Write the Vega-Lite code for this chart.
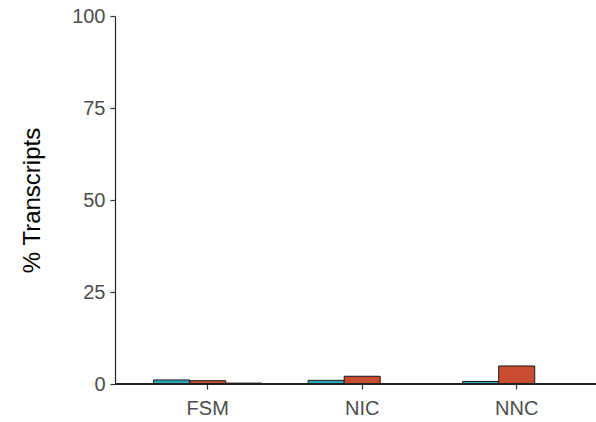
{
  "$schema": "https://vega.github.io/schema/vega-lite/v6.json",
  "autosize": "none",
  "padding": {"left": 115, "top": 16, "right": 0, "bottom": 38},
  "width": 481,
  "height": 368,
  "background": "white",
  "config": {
    "view": {"stroke": null},
    "font": "Liberation Sans",
    "axis": {"grid": false, "domainColor": "#222222", "tickColor": "#333333", "tickSize": 5, "labelColor": "#4D4D4D", "labelFontSize": 20, "titleColor": "#000000", "titleFontSize": 24, "titleFontWeight": "normal", "domainWidth": 1.2, "tickWidth": 1.2}
  },
  "data": {
    "values": [
      {"category": "FSM", "group": "A", "pct": 1.1},
      {"category": "FSM", "group": "B", "pct": 0.9},
      {"category": "FSM", "group": "C", "pct": 0.25},
      {"category": "NIC", "group": "A", "pct": 1.0},
      {"category": "NIC", "group": "B", "pct": 2.1},
      {"category": "NIC", "group": "C", "pct": 0.0},
      {"category": "NNC", "group": "A", "pct": 0.7},
      {"category": "NNC", "group": "B", "pct": 4.9},
      {"category": "NNC", "group": "C", "pct": 0.0}
    ]
  },
  "layer": [
    {
      "mark": {"type": "bar", "stroke": "#1a1a1a", "strokeWidth": 1},
      "encoding": {
        "x": {
          "field": "category", "type": "nominal",
          "scale": {"paddingInner": 0.3, "paddingOuter": 0.2066, "align": 0.605},
          "axis": {"title": null, "labelAngle": 0, "labelPadding": 9}
        },
        "xOffset": {"field": "group", "type": "nominal", "scale": {"paddingInner": 0, "paddingOuter": 0}},
        "y": {
          "field": "pct", "type": "quantitative",
          "scale": {"domain": [0, 100], "nice": false, "zero": true},
          "axis": {"title": "% Transcripts", "values": [0, 25, 50, 75, 100], "labelPadding": 5, "titlePadding": 27}
        },
        "fill": {
          "field": "group", "type": "nominal",
          "scale": {"domain": ["A", "B", "C"], "range": ["#2BA5B8", "#C94B31", "#333333"]},
          "legend": null
        }
      }
    },
    {
      "mark": {"type": "rule", "color": "#222222", "strokeWidth": 1.2},
      "encoding": {"y": {"datum": 0}}
    }
  ]
}
